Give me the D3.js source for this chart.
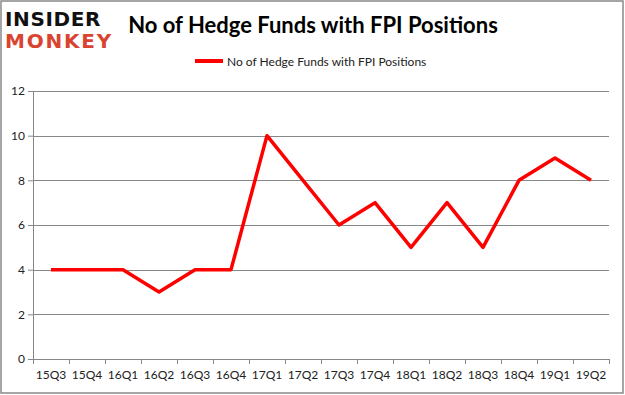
<!DOCTYPE html>
<html>
<head>
<meta charset="utf-8">
<script src="https://cdn.jsdelivr.net/npm/d3@7"></script>
<style>
  body { margin: 0; background: #fff; }
  svg text { font-family: Lato, "Liberation Sans", sans-serif; }
</style>
</head>
<body>
<div id="chart"></div>
<script>
// Chart data
var quarters = ["15Q3","15Q4","16Q1","16Q2","16Q3","16Q4","17Q1","17Q2","17Q3","17Q4","18Q1","18Q2","18Q3","18Q4","19Q1","19Q2"];
var funds = [4, 4, 4, 3, 4, 4, 10, 8, 6, 7, 5, 7, 5, 8, 9, 8];
var yTicks = [0, 2, 4, 6, 8, 10, 12];
var seriesName = "No of Hedge Funds with FPI Positions";

var W = 625, H = 395;
var margin = {top: 91, right: 16, bottom: 36, left: 33};
var width = W - margin.left - margin.right,
    height = H - margin.top - margin.bottom;

var svg = d3.select("#chart").append("svg")
  .attr("width", W)
  .attr("height", H);

// outer border
svg.append("rect")
  .attr("x", 1).attr("y", 1)
  .attr("width", W - 3).attr("height", H - 3)
  .attr("fill", "#fff")
  .attr("stroke", "#888")
  .attr("stroke-width", 1.5);

// logo
var logo = svg.append("g");
logo.append("rect").attr("x", 2).attr("y", 2).attr("width", 112).attr("height", 52).attr("fill", "#fff");
logo.append("text")
  .attr("x", 5).attr("y", 26)
  .style("font-family", "'DejaVu Sans', sans-serif")
  .style("font-weight", "900")
  .style("font-size", "20px")
  .style("letter-spacing", "0.6px")
  .attr("fill", "#111")
  .text("INSIDER");
logo.append("text")
  .attr("x", 5).attr("y", 48)
  .style("font-family", "'DejaVu Sans', sans-serif")
  .style("font-weight", "900")
  .style("font-size", "20px")
  .style("letter-spacing", "1.8px")
  .attr("fill", "#d94430")
  .text("MONKEY");

// title
svg.append("text")
  .attr("x", 313).attr("y", 33)
  .attr("text-anchor", "middle")
  .style("font-weight", "bold")
  .style("font-size", "22px")
  .attr("fill", "#000")
  .text(seriesName);

// legend
svg.append("line")
  .attr("x1", 195).attr("x2", 223)
  .attr("y1", 61).attr("y2", 61)
  .attr("stroke", "#ff0000")
  .attr("stroke-width", 4);
svg.append("text")
  .attr("x", 227).attr("y", 65.5)
  .style("font-size", "12px")
  .attr("fill", "#222")
  .text(seriesName);

var g = svg.append("g")
  .attr("transform", "translate(" + margin.left + "," + margin.top + ")");

var xScale = d3.scaleBand()
  .domain(quarters)
  .range([0, width]);

var yScale = d3.scaleLinear()
  .domain([0, 12])
  .range([height, 0]);

// gridlines
g.selectAll("line.grid")
  .data(yTicks.filter(function(d) { return d > 0; }))
  .enter()
  .append("line")
  .attr("class", "grid")
  .attr("x1", 0).attr("x2", width)
  .attr("y1", function(d) { return Math.round(yScale(d)) + 0.5; })
  .attr("y2", function(d) { return Math.round(yScale(d)) + 0.5; })
  .attr("stroke", "#878787")
  .attr("stroke-width", 1);

// y axis
var yAxis = d3.axisLeft(yScale)
  .tickValues(yTicks)
  .tickSize(5)
  .tickPadding(3);
var yAxisGroup = g.append("g").call(yAxis);
yAxisGroup.select(".domain").attr("stroke", "#878787");
yAxisGroup.selectAll(".tick line").attr("stroke", "#878787");
yAxisGroup.selectAll("text")
  .style("font-size", "12px")
  .style("font-family", "Lato, sans-serif")
  .attr("fill", "#222");

// x axis
var xAxis = d3.axisBottom(xScale)
  .tickSize(0)
  .tickPadding(11);
var xAxisGroup = g.append("g")
  .attr("transform", "translate(0," + height + ")")
  .call(xAxis);
xAxisGroup.select(".domain").attr("stroke", "#878787");
xAxisGroup.selectAll("text")
  .style("font-size", "12px")
  .style("font-family", "Lato, sans-serif")
  .attr("fill", "#222");

// x tick marks at band boundaries
g.selectAll("line.xtick")
  .data(quarters.concat(["end"]))
  .enter()
  .append("line")
  .attr("class", "xtick")
  .attr("x1", function(d, i) { return Math.round(i * xScale.step()) + 0.5; })
  .attr("x2", function(d, i) { return Math.round(i * xScale.step()) + 0.5; })
  .attr("y1", height)
  .attr("y2", height + 5)
  .attr("stroke", "#878787");

// series line
var line = d3.line()
  .x(function(d, i) { return xScale(quarters[i]) + xScale.bandwidth() / 2; })
  .y(function(d) { return yScale(d); });

g.append("path")
  .datum(funds)
  .attr("d", line)
  .attr("fill", "none")
  .attr("stroke", "#ff0000")
  .attr("stroke-width", 3.5)
  .attr("stroke-linejoin", "round");
</script>
</body>
</html>
